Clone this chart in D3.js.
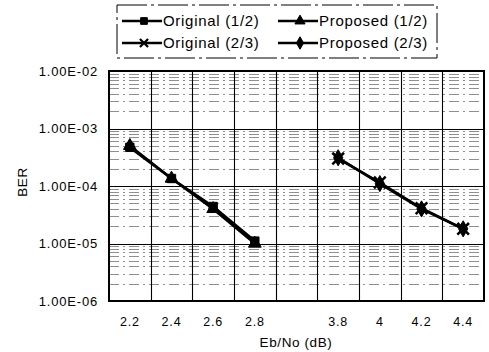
<!DOCTYPE html>
<html><head><meta charset="utf-8">
<script src="https://cdn.jsdelivr.net/npm/d3@7"></script>
<style>body{margin:0;background:#fff}svg{display:block}text{font-family:"Liberation Sans",Arial,sans-serif;fill:#000}</style>
</head><body><svg id="c" width="489" height="352"></svg>
<script>
const categories = ["2.2","2.4","2.6","2.8","gap","3.8","4","4.2","4.4"];
const xTickLabels = ["2.2","2.4","2.6","2.8","","3.8","4","4.2","4.4"];
const yTicks = [1e-2,1e-3,1e-4,1e-5,1e-6];
const yTickLabels = ["1.00E-02","1.00E-03","1.00E-04","1.00E-05","1.00E-06"];
const orig12 = [[ "2.2",4.7e-4],["2.4",1.35e-4],["2.6",4.4e-5],["2.8",1.1e-5]];
const prop12 = [[ "2.2",5.0e-4],["2.4",1.35e-4],["2.6",4.0e-5],["2.8",1.0e-5]];
const orig23 = [[ "3.8",3.0e-4],["4",1.15e-4],["4.2",4.1e-5],["4.4",1.8e-5]];
const prop23 = [[ "3.8",3.1e-4],["4",1.1e-4],["4.2",4.0e-5],["4.4",1.8e-5]];
const seriesNames = ["Original (1/2)","Original (2/3)","Proposed (1/2)","Proposed (2/3)"];

const svg = d3.select("#c");
const L=109,R=484,T=71,B=301;
const x = d3.scaleBand().domain(categories).range([L,R]).paddingInner(0).paddingOuter(0);
const y = d3.scaleLog().domain([1e-6,1e-2]).range([B,T]);

const g = svg.append("g");
const minors=[];
for(let e=-6;e<-2;e++) for(let m=2;m<=9;m++) minors.push(m*Math.pow(10,e));
g.selectAll("line.mn").data(minors).enter().append("line")
 .attr("x1",L).attr("x2",R).attr("y1",d=>Math.round(y(d))+0.5).attr("y2",d=>Math.round(y(d))+0.5)
 .attr("stroke","#333").attr("stroke-width",1).attr("stroke-dasharray","10,4,2,4").attr("opacity",0.55);
g.selectAll("line.mj").data(yTicks).enter().append("line")
 .attr("x1",L).attr("x2",R).attr("y1",d=>Math.round(y(d))+0.5).attr("y2",d=>Math.round(y(d))+0.5)
 .attr("stroke","#000").attr("stroke-width",1.2);
g.selectAll("line.v").data(categories.slice(1)).enter().append("line")
 .attr("x1",d=>Math.round(x(d))+0.5).attr("x2",d=>Math.round(x(d))+0.5).attr("y1",T).attr("y2",B)
 .attr("stroke","#000").attr("stroke-width",1.1);
svg.append("rect").attr("x",L).attr("y",T).attr("width",R-L).attr("height",B-T)
 .attr("fill","none").attr("stroke","#000").attr("stroke-width",2);

const yAxis = svg.append("g").attr("transform",`translate(${L},0)`)
 .call(d3.axisLeft(y).tickValues(yTicks).tickSize(0).tickPadding(11).tickFormat((d,i)=>yTickLabels[i]));
yAxis.select(".domain").remove();
yAxis.selectAll("text").attr("font-size",13).attr("letter-spacing",0.8).attr("font-family","Liberation Sans, Arial");
const xAxis = svg.append("g").attr("transform",`translate(0,${B})`)
 .call(d3.axisBottom(x).tickSize(0).tickPadding(16).tickFormat((d,i)=>xTickLabels[i]));
xAxis.select(".domain").remove();
xAxis.selectAll("text").attr("font-size",12.5).attr("letter-spacing",0.8).attr("font-family","Liberation Sans, Arial");

svg.append("text").attr("x",296).attr("y",347).attr("text-anchor","middle").attr("font-size",13.5).attr("letter-spacing",0.6).text("Eb/No (dB)");
svg.append("text").attr("transform","translate(27,182) rotate(-90)").attr("text-anchor","middle").attr("font-size",13.5).attr("letter-spacing",0.6).text("BER");

const cx = d=>x(d[0])+x.bandwidth()/2;
const line = d3.line().x(cx).y(d=>y(d[1]));
const sym = {
 "Original (1/2)": d3.symbol(d3.symbolSquare,70),
 "Original (2/3)": d3.symbol(d3.symbolX,90),
 "Proposed (1/2)": d3.symbol(d3.symbolTriangle,70),
 "Proposed (2/3)": d3.symbol(d3.symbolDiamond,75)
};
const data = {"Original (1/2)":orig12,"Original (2/3)":orig23,"Proposed (1/2)":prop12,"Proposed (2/3)":prop23};
seriesNames.forEach(n=>{
 const d=data[n];
 svg.append("path").attr("d",line(d)).attr("fill","none").attr("stroke","#000").attr("stroke-width",2.6);
 svg.selectAll(null).data(d).enter().append("path")
  .attr("transform",p=>`translate(${cx(p)},${y(p[1])})`).attr("d",sym[n]())
  .attr("fill","#000").attr("stroke","#000").attr("stroke-width",n==="Original (2/3)"?2.5:1);
});

const lg = svg.append("g");
lg.append("rect").attr("x",117).attr("y",5).attr("width",320).attr("height",53)
 .attr("fill","#fff").attr("stroke","#000").attr("stroke-width",1).attr("stroke-dasharray","30,4,3,4");
const pos = {"Original (1/2)":[122,21],"Original (2/3)":[122,43],"Proposed (1/2)":[278,21],"Proposed (2/3)":[278,43]};
seriesNames.forEach(n=>{
 const [px,py]=pos[n];
 lg.append("line").attr("x1",px).attr("x2",px+40).attr("y1",py).attr("y2",py).attr("stroke","#000").attr("stroke-width",2.6);
 lg.append("path").attr("transform",`translate(${px+22},${py})`).attr("d",d3.symbol(sym[n].type(), 45)()).attr("fill","#000").attr("stroke","#000").attr("stroke-width",n==="Original (2/3)"?2.2:1);
 lg.append("text").attr("x",px+41).attr("y",py+5).attr("font-size",15).attr("letter-spacing",0.7).text(n);
});
</script></body></html>
